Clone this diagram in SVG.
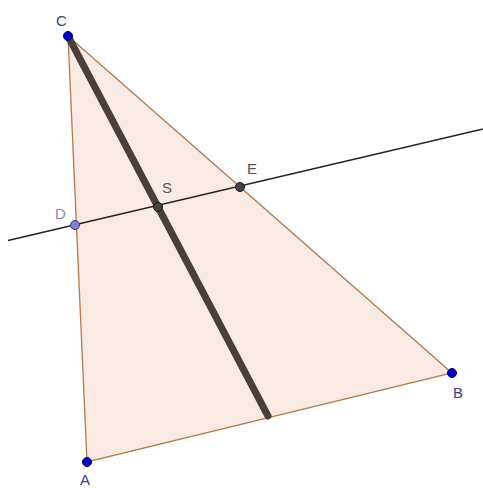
<svg xmlns="http://www.w3.org/2000/svg" width="483" height="488" viewBox="0 0 483 488">
<style>
.lbl{font-family:"Liberation Sans",Arial,sans-serif;font-size:15px}
.pt{stroke:#000066;stroke-width:1}
</style>
<rect width="483" height="488" fill="#ffffff"/>
<g id="triangle">
<polygon points="68,36 87,462 452,373" fill="#f9ebe4" stroke="#b57a4a" stroke-width="1.3"/>
</g>
<g id="connectors">
<line x1="8" y1="240.5" x2="483" y2="129" stroke="#222" stroke-width="1.3"/>
<line x1="68" y1="36" x2="268" y2="416" stroke="#4a403b" stroke-width="7" stroke-linecap="round"/>
</g>
<g id="C"><circle cx="68" cy="36" r="4.5" fill="#0000cc" class="pt"/><text x="56" y="26" class="lbl" fill="#3b3b8f">C</text></g>
<g id="D"><circle cx="75" cy="225" r="4.5" fill="#8080d8" stroke="#333366" stroke-width="1"/><text x="55" y="219" class="lbl" fill="#8888bb">D</text></g>
<g id="S"><circle cx="158" cy="207" r="4.5" fill="#444" stroke="#111" stroke-width="1"/><text x="162" y="193" class="lbl" fill="#555">S</text></g>
<g id="E"><circle cx="240" cy="187" r="4.5" fill="#444" stroke="#111" stroke-width="1"/><text x="247" y="174" class="lbl" fill="#555">E</text></g>
<g id="A"><circle cx="87" cy="462" r="4.5" fill="#0000cc" class="pt"/><text x="80" y="485" class="lbl" fill="#3b3b8f">A</text></g>
<g id="B"><circle cx="452" cy="373" r="4.5" fill="#0000cc" class="pt"/><text x="453" y="398" class="lbl" fill="#3b3b8f">B</text></g>
</svg>
